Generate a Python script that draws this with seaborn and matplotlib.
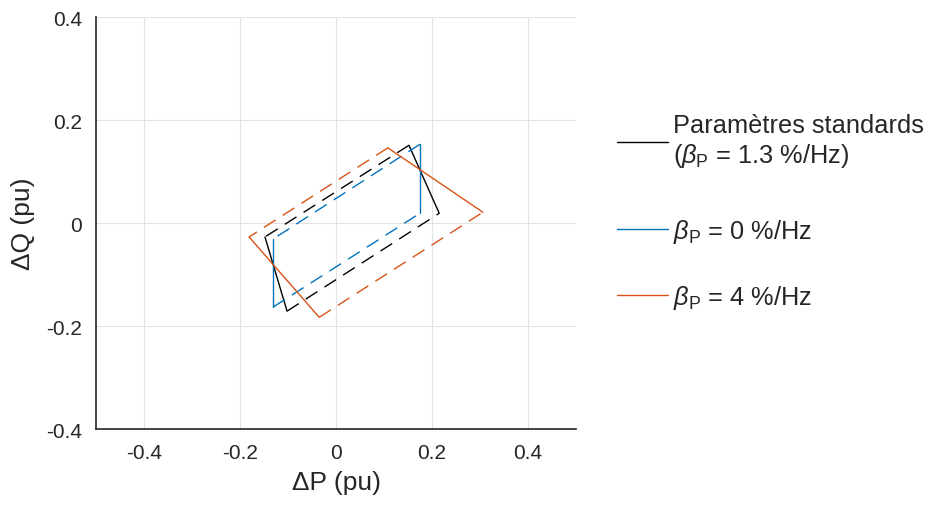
import matplotlib
matplotlib.use("Agg")
import matplotlib.pyplot as plt
import seaborn as sns
from matplotlib.ticker import FuncFormatter
from matplotlib.lines import Line2D

# corners of each loop: A (left), B (bottom), C (right), D (top)
# solid sides A->B and C->D, dashed sides B->C and D->A
std_x = [-0.148, -0.102, 0.215, 0.152]
std_y = [-0.027, -0.171, 0.019, 0.151]
b0_x = [-0.131, -0.131, 0.175, 0.175]
b0_y = [-0.031, -0.163, 0.019, 0.153]
b4_x = [-0.181, -0.035, 0.306, 0.108]
b4_y = [-0.027, -0.183, 0.021, 0.146]

labels = ["Paramètres standards\n($\\beta_{\\mathrm{P}}$ = 1.3 %/Hz)",
          "$\\beta_{\\mathrm{P}}$ = 0 %/Hz",
          "$\\beta_{\\mathrm{P}}$ = 4 %/Hz"]
colors = ["#000000", "#0072BD", "#D95319"]
ticks_x = [-0.4, -0.2, 0, 0.2, 0.4]
ticks_y = [-0.4, -0.2, 0, 0.2, 0.4]

sns.set_style("white")
plt.rcParams['font.family'] = ['Liberation Sans', 'DejaVu Sans']
plt.rcParams['mathtext.fontset'] = 'custom'
plt.rcParams['mathtext.rm'] = 'Liberation Sans'
plt.rcParams['mathtext.it'] = 'Liberation Sans:italic'
plt.rcParams['axes.unicode_minus'] = False

fig = plt.figure(figsize=(9.34, 5.06), dpi=100)
ax = fig.add_axes([0.1028, 0.150, 0.5139, 0.8144])

for xs, ys, c in [(std_x, std_y, colors[0]), (b0_x, b0_y, colors[1]), (b4_x, b4_y, colors[2])]:
    # solid sides
    for i, j in [(0, 1), (2, 3)]:
        sns.lineplot(x=[xs[i], xs[j]], y=[ys[i], ys[j]], sort=False, estimator=None,
                     color=c, lw=1.0, ax=ax)
    # dashed sides
    for i, j in [(1, 2), (3, 0)]:
        sns.lineplot(x=[xs[i], xs[j]], y=[ys[i], ys[j]], sort=False, estimator=None,
                     color=c, lw=1.0, ax=ax, linestyle=(0, (10, 6)))

ax.set_xlim(-0.5, 0.5)
ax.set_ylim(-0.4, 0.4)
ax.set_xticks(ticks_x)
ax.set_yticks(ticks_y)
fmt = FuncFormatter(lambda v, p: "%g" % round(v, 2))
ax.xaxis.set_major_formatter(fmt)
ax.yaxis.set_major_formatter(fmt)
ax.grid(True, color="#e3e3e3", lw=0.8)
ax.set_axisbelow(True)
for s in ["top", "right"]:
    ax.spines[s].set_visible(False)
for s in ["left", "bottom"]:
    ax.spines[s].set_color("#262626")
    ax.spines[s].set_linewidth(1.2)
ax.tick_params(direction="in", length=5, width=1.2, colors="#262626",
               labelsize=15, pad=10)
ax.set_xlabel("ΔP (pu)", fontsize=19, color="#262626", labelpad=6)
ax.set_ylabel("ΔQ (pu)", fontsize=19, color="#262626", labelpad=8)

# one legend per entry so the uneven spacing of the reference is kept
for c, lab, yc in zip(colors, labels, [0.719, 0.542, 0.411]):
    leg = fig.legend([Line2D([0], [0], color=c, lw=1.0)], [lab], loc="center left",
                     bbox_to_anchor=(0.6606, yc), frameon=False, fontsize=18.3,
                     handlelength=2.0, handletextpad=0.2, borderaxespad=0, borderpad=0)

fig.savefig("out.png", dpi=100)
